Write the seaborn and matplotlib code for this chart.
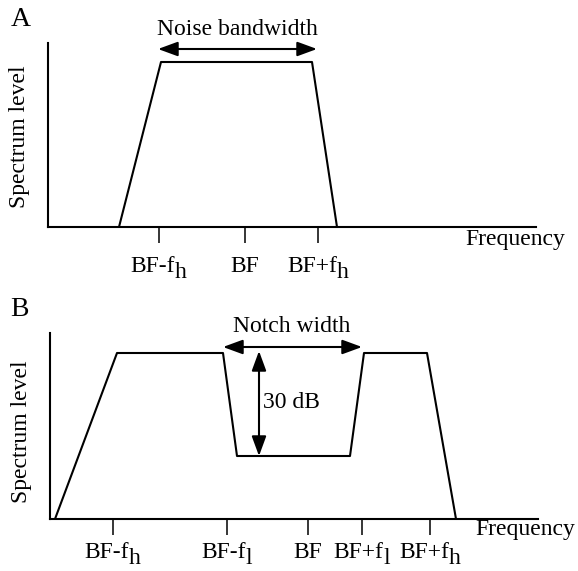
import matplotlib
matplotlib.use("Agg")
import matplotlib.pyplot as plt
from matplotlib.transforms import IdentityTransform
import seaborn as sns

# ---------------- data ----------------
# Panel A: noise band (frequency and level in arbitrary units)
freq_a = [71, 113, 264, 289]
level_a = [0, 165, 165, 0]
ticks_a = [111, 197, 270]
ticklabels_a = [("BF-f", "h"), ("BF", ""), ("BF+f", "h")]

# Panel B: notched noise
freq_b = [5, 67, 173, 187, 300, 314, 377, 406]
level_b = [0, 166, 166, 63, 63, 166, 166, 0]
ticks_b = [63, 177, 258, 312, 380]
ticklabels_b = [("BF-f", "h"), ("BF-f", "l"), ("BF", ""), ("BF+f", "l"), ("BF+f", "h")]

sns.set_theme(style="white")
plt.rcParams["font.family"] = ["Liberation Serif", "DejaVu Serif"]
for k in ["text.color", "axes.labelcolor", "xtick.color", "ytick.color", "axes.edgecolor"]:
    plt.rcParams[k] = "black"

W, H = 578, 571
fig = plt.figure(figsize=(W / 100, H / 100), dpi=100)
renderer = fig.canvas.get_renderer()

FS = 17
LW = 1.5


def px_axes(left, top, right, bottom):
    return fig.add_axes([left / W, 1 - bottom / H, (right - left) / W, (bottom - top) / H])


def style(ax, xmax, ymax, ticks):
    ax.set_xlim(0, xmax)
    ax.set_ylim(0, ymax)
    for s in ["top", "right"]:
        ax.spines[s].set_visible(False)
    for s in ["left", "bottom"]:
        ax.spines[s].set_color("black")
        ax.spines[s].set_linewidth(1.5)
    ax.set_yticks([])
    ax.set_xticks(ticks)
    ax.set_xticklabels([""] * len(ticks))
    ax.tick_params(axis="x", direction="out", length=11.5, width=1.1, color="black",
                   bottom=True)
    ax.set_xlabel("")
    ax.set_ylabel("")
    ax.patch.set_alpha(0)


def sub_labels(ax, ticks, parts, baseline_px, drop=6):
    for x, (main, sub) in zip(ticks, parts):
        px = ax.transData.transform((x, 0))[0]
        t1 = fig.text(0, 0, main, fontsize=FS, ha="left", va="baseline",
                      transform=IdentityTransform())
        w1 = t1.get_window_extent(renderer).width
        w2 = 0
        t2 = None
        if sub:
            t2 = fig.text(0, 0, sub, fontsize=FS, ha="left", va="baseline",
                          transform=IdentityTransform())
            w2 = t2.get_window_extent(renderer).width
        left = px - (w1 + w2) / 2
        t1.set_position((left, H - baseline_px))
        if t2 is not None:
            t2.set_position((left + w1 - 0.5, H - baseline_px - drop))


arrow_kw = dict(arrowstyle="<|-|>,head_length=0.6,head_width=0.22", color="black",
                lw=1.5, shrinkA=0, shrinkB=0, mutation_scale=20)

# ---------------- Panel A ----------------
axA = px_axes(48, 43, 536, 227)
sns.lineplot(x=freq_a, y=level_a, ax=axA, color="black", lw=LW, sort=False,
             estimator=None)
for l in axA.lines:
    l.set_clip_on(False)
style(axA, 488, 184, ticks_a)
axA.annotate("", xy=(110, 178), xytext=(269, 178), arrowprops=arrow_kw,
             annotation_clip=False)
axA.text(189.5, 198, "Noise bandwidth", ha="center", va="center", fontsize=FS,
         clip_on=False)
sub_labels(axA, ticks_a, ticklabels_a, 272)

# ---------------- Panel B ----------------
axB = px_axes(50, 333, 538, 519)
sns.lineplot(x=freq_b, y=level_b, ax=axB, color="black", lw=LW, sort=False,
             estimator=None)
for l in axB.lines:
    l.set_clip_on(False)
style(axB, 488, 186, ticks_b)
axB.annotate("", xy=(173, 172), xytext=(312, 172), arrowprops=arrow_kw,
             annotation_clip=False)
axB.annotate("", xy=(209, 168), xytext=(209, 63), arrowprops=arrow_kw,
             annotation_clip=False)
axB.text(242, 192, "Notch width", ha="center", va="center", fontsize=FS,
         clip_on=False)
axB.text(213, 117, "30 dB", ha="left", va="center", fontsize=FS, clip_on=False)
sub_labels(axB, ticks_b, ticklabels_b, 558)

# ---------------- figure texts ----------------
fig.text(11 / W, 1 - 20 / H, "A", fontsize=20, ha="left", va="center")
fig.text(10 / W, 1 - 309 / H, "B", fontsize=20, ha="left", va="center")
fig.text(20 / W, 1 - 137 / H, "Spectrum level", rotation=90, fontsize=FS,
         ha="center", va="center")
fig.text(22 / W, 1 - 432 / H, "Spectrum level", rotation=90, fontsize=FS,
         ha="center", va="center")
fig.text(465 / W, 1 - 239 / H, "Frequency", fontsize=FS, ha="left", va="center")
fig.text(475 / W, 1 - 530 / H, "Frequency", fontsize=FS, ha="left", va="center")

fig.savefig("out.png", dpi=100)
